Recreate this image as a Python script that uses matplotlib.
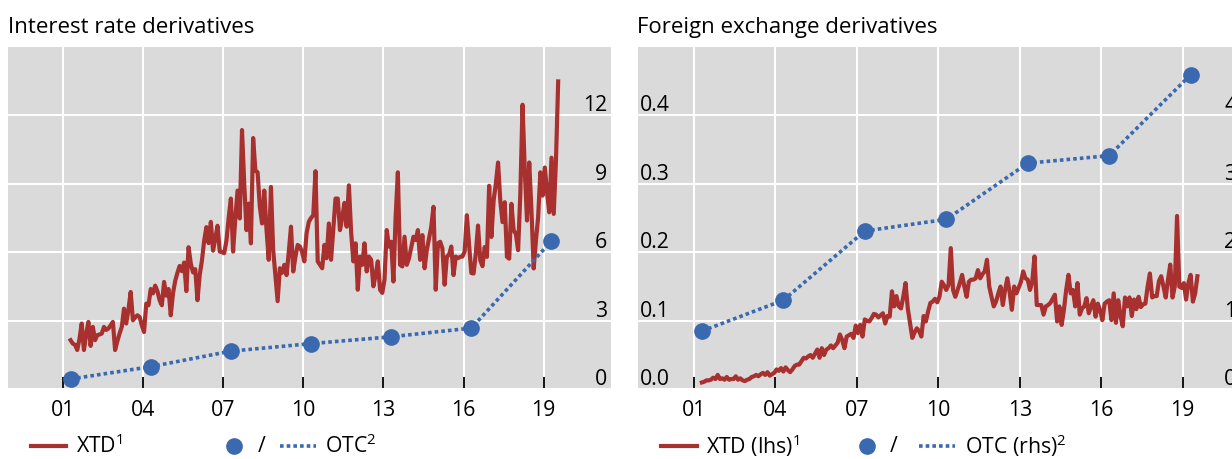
import numpy as np
import pandas as pd
import matplotlib
matplotlib.use('Agg')
import matplotlib.pyplot as plt
from matplotlib.lines import Line2D
from matplotlib.transforms import blended_transform_factory, ScaledTranslation

plt.rcParams['font.family'] = ['Open Sans', 'DejaVu Sans']
plt.rcParams['mathtext.default'] = 'regular'

# ---------------- data ----------------
xtd_start, xtd_end = '2001-04', '2019-07'   # monthly XTD turnover

ir_xtd = [
    2.15, 2.0, 1.95, 1.72, 2.2, 2.88, 1.72, 2.4, 2.95, 1.9,
    2.73, 2.15, 2.37, 2.4, 2.44, 2.73, 2.6, 2.66, 2.8, 2.95,
    1.72, 2.1, 2.44, 2.73, 3.53, 2.88, 3.5, 4.26, 3.02, 3.15,
    3.24, 3.17, 2.8, 2.51, 3.75, 3.68, 4.39, 4.2, 4.54, 4.3,
    3.9, 3.68, 4.7, 4.1, 4.39, 3.24, 4.2, 4.75, 5.1, 5.4,
    5.17, 5.55, 4.3, 6.22, 5.5, 5.12, 5.26, 3.9, 5.0, 5.64,
    6.5, 7.1, 6.4, 7.33, 6.07, 6.6, 7.16, 6.03, 6.0, 5.96,
    6.5, 7.5, 8.35, 6.03, 7.5, 8.7, 7.48, 11.35, 9.0, 6.97,
    8.13, 6.39, 11.0, 9.58, 9.5, 8.0, 7.26, 8.7, 7.0, 5.67,
    8.86, 6.1, 5.0, 3.86, 5.3, 5.1, 5.45, 5.0, 6.0, 7.12,
    5.16, 5.8, 6.32, 6.25, 6.0, 5.6, 6.83, 7.33, 7.5, 7.62,
    9.55, 5.6, 5.45, 5.3, 6.32, 5.74, 7.26, 5.67, 7.0, 8.35,
    8.35, 6.97, 7.5, 8.16, 7.12, 8.93, 6.9, 5.6, 6.39, 4.36,
    5.81, 5.45, 6.39, 5.16, 5.81, 5.67, 4.51, 5.0, 5.6, 4.36,
    4.22, 4.8, 6.97, 6.25, 6.46, 4.72, 7.55, 9.5, 5.45, 5.38,
    6.68, 5.45, 5.74, 6.2, 6.68, 6.54, 6.97, 5.67, 6.75, 5.3,
    6.1, 6.6, 7.12, 7.99, 4.36, 6.39, 6.46, 6.17, 4.58, 5.81,
    5.9, 6.25, 5.0, 5.81, 5.74, 5.8, 5.81, 6.03, 7.62, 6.3,
    5.09, 5.07, 5.94, 7.17, 5.65, 5.39, 6.23, 5.8, 8.91, 6.67,
    8.26, 9.0, 9.93, 8.26, 7.32, 8.19, 5.8, 5.72, 8.12, 6.96,
    6.81, 6.09, 8.55, 12.46, 9.57, 7.39, 9.93, 7.83, 5.29, 6.5,
    7.54, 9.5, 8.48, 9.71, 8.62, 7.75, 10.14, 7.68, 10.0, 13.48,
]

fx_xtd = [
    0.010, 0.011, 0.013, 0.013, 0.014, 0.017, 0.015, 0.021, 0.015, 0.016,
    0.014, 0.018, 0.014, 0.015, 0.015, 0.019, 0.014, 0.016, 0.013, 0.012,
    0.014, 0.015, 0.018, 0.019, 0.021, 0.019, 0.022, 0.024, 0.021, 0.025,
    0.020, 0.022, 0.024, 0.029, 0.027, 0.031, 0.026, 0.032, 0.028, 0.025,
    0.029, 0.034, 0.036, 0.036, 0.041, 0.046, 0.045, 0.048, 0.050, 0.046,
    0.052, 0.058, 0.046, 0.060, 0.050, 0.058, 0.060, 0.064, 0.060, 0.064,
    0.068, 0.080, 0.072, 0.060, 0.077, 0.079, 0.081, 0.075, 0.093, 0.082,
    0.094, 0.077, 0.102, 0.100, 0.099, 0.104, 0.110, 0.109, 0.105, 0.108,
    0.111, 0.096, 0.107, 0.106, 0.143, 0.121, 0.136, 0.121, 0.118, 0.135,
    0.155, 0.118, 0.097, 0.075, 0.083, 0.089, 0.085, 0.077, 0.107, 0.099,
    0.114, 0.126, 0.128, 0.132, 0.127, 0.135, 0.157, 0.152, 0.145, 0.152,
    0.206, 0.145, 0.135, 0.145, 0.155, 0.167, 0.150, 0.135, 0.157, 0.160,
    0.160, 0.162, 0.174, 0.162, 0.168, 0.172, 0.189, 0.150, 0.135, 0.121,
    0.128, 0.140, 0.150, 0.123, 0.145, 0.162, 0.142, 0.116, 0.150, 0.140,
    0.148, 0.157, 0.172, 0.162, 0.160, 0.145, 0.157, 0.194, 0.123, 0.123,
    0.123, 0.109, 0.121, 0.123, 0.126, 0.132, 0.138, 0.099, 0.121, 0.094,
    0.116, 0.145, 0.167, 0.140, 0.145, 0.121, 0.155, 0.109, 0.118, 0.121,
    0.133, 0.111, 0.121, 0.130, 0.106, 0.125, 0.115, 0.101, 0.125, 0.128,
    0.130, 0.101, 0.140, 0.097, 0.130, 0.107, 0.092, 0.134, 0.121, 0.134,
    0.107, 0.131, 0.117, 0.135, 0.120, 0.124, 0.125, 0.150, 0.169, 0.134,
    0.136, 0.136, 0.158, 0.165, 0.150, 0.134, 0.160, 0.182, 0.134, 0.150,
    0.253, 0.150, 0.148, 0.155, 0.131, 0.155, 0.167, 0.128, 0.140, 0.165,
]

otc_years = [2001, 2004, 2007, 2010, 2013, 2016, 2019]   # April surveys
ir_otc = [0.45, 0.99, 1.67, 2.0, 2.3, 2.68, 6.49]
fx_otc = [0.85, 1.30, 2.31, 2.48, 3.30, 3.41, 4.59]

xtick_years = [2001, 2004, 2007, 2010, 2013, 2016, 2019]
xtick_labels = ['01', '04', '07', '10', '13', '16', '19']
ir_ticks = [0, 3, 6, 9, 12]
fx_lhs_ticks = [0.0, 0.1, 0.2, 0.3, 0.4]
fx_lhs_labels = ['0.0', '0.1', '0.2', '0.3', '0.4']
fx_rhs_ticks = [0, 1, 2, 3, 4]

# ---------------- style ----------------
RED = '#A8302E'
BLUE = '#3A69AF'
BG = '#DADADA'
FS = 15.3
TFS = 16
W, H = 1232, 459
LW_RED = 3.0
LW_DOT = 2.6
DOTS = (0, (1, 0.85))

months = pd.period_range(xtd_start, xtd_end, freq='M')
xtd_x = np.asarray(months.year + (months.month - 0.5) / 12.0, dtype=float)
otc_x = np.asarray(otc_years, dtype=float) + 3.5 / 12.0

fig = plt.figure(figsize=(W / 100, H / 100), dpi=100)

def px_rect(x0, y0, x1, y1):
    return [x0 / W, 1 - y1 / H, (x1 - x0) / W, (y1 - y0) / H]

ax1 = fig.add_axes(px_rect(8, 46.7, 610.5, 389.3))
ax2 = fig.add_axes(px_rect(638.3, 46.7, 1240, 389.3))

def style(ax, xlim, ylim, yticks):
    ax.set_facecolor(BG)
    for s in ax.spines.values():
        s.set_visible(False)
    ax.set_xlim(*xlim)
    ax.set_ylim(*ylim)
    ax.set_xticks(xtick_years)
    ax.set_xticklabels(xtick_labels, fontsize=FS)
    ax.set_yticks(yticks)
    ax.tick_params(axis='x', direction='in', length=9, width=1.3, color='black', pad=8)
    ax.tick_params(axis='y', length=0, labelleft=False, labelright=False)
    ax.grid(True, color='white', linewidth=1.5)
    ax.set_axisbelow(True)

style(ax1, (1998.95, 2021.5), (0, 15), ir_ticks)
style(ax2, (1998.95, 2021.11), (0, 0.5), fx_lhs_ticks)

# left panel
ax1.plot(xtd_x, ir_xtd, color=RED, lw=LW_RED, zorder=3, solid_joinstyle='round')
ax1.plot(otc_x, ir_otc, color=BLUE, lw=LW_DOT, linestyle=DOTS, zorder=4)
ax1.plot(otc_x, ir_otc, color=BLUE, lw=0, marker='o', markersize=11, zorder=5)

tr1 = blended_transform_factory(ax1.transAxes, ax1.transData)
off_up = ScaledTranslation(0, 4 / 100, fig.dpi_scale_trans)
for t in ir_ticks:
    ax1.text(1 - 3.5 / 602.5, t, str(t), transform=tr1 + off_up, ha='right', va='baseline',
             fontsize=FS, zorder=6)

# right panel
ax2.plot(xtd_x, fx_xtd, color=RED, lw=LW_RED, zorder=3, solid_joinstyle='round')
ax2b = ax2.twinx()
ax2b.set_ylim(0, 5)
ax2b.set_xlim(ax2.get_xlim())
for s in ax2b.spines.values():
    s.set_visible(False)
ax2b.tick_params(axis='y', length=0, labelright=False)
ax2b.set_yticks([])
ax2b.plot(otc_x, fx_otc, color=BLUE, lw=LW_DOT, linestyle=DOTS, zorder=4)
ax2b.plot(otc_x, fx_otc, color=BLUE, lw=0, marker='o', markersize=11, zorder=5)

tr2 = blended_transform_factory(ax2.transAxes, ax2.transData)
for t, lab in zip(fx_lhs_ticks, fx_lhs_labels):
    ax2.text(2 / 601.7, t, lab, transform=tr2 + off_up, ha='left', va='baseline', fontsize=FS)
tr2b = blended_transform_factory(ax2b.transAxes, ax2b.transData)
for t in fx_rhs_ticks:
    ax2b.text(1 - 3.5 / 601.7, t, str(t), transform=tr2b + off_up, ha='right', va='baseline',
              fontsize=FS)

# titles
fig.text(8 / W, 1 - 33 / H, 'Interest rate derivatives', fontsize=TFS, ha='left', va='baseline')
fig.text(637 / W, 1 - 33 / H, 'Foreign exchange derivatives', fontsize=TFS, ha='left', va='baseline')

# legends
LY = 1 - 446 / H
def leg_line(x0, x1, **kw):
    fig.add_artist(Line2D([x0 / W, x1 / W], [LY, LY], transform=fig.transFigure, **kw))

def leg_text(x, s, **kw):
    fig.text(x / W, LY, s, fontsize=FS, ha='left', va='center', **kw)

for (rx0, rx1, tx, lab, dx, sx, lx0, lx1, ox, olab) in [
        (31, 66, 76, 'XTD$^1$', 234, 258, 280, 316, 325, 'OTC$^2$'),
        (661, 697, 706, 'XTD (lhs)$^1$', 867, 890, 919, 955, 965, 'OTC (rhs)$^2$')]:
    leg_line(rx0, rx1, color=RED, lw=LW_RED)
    leg_text(tx, lab)
    fig.add_artist(Line2D([dx / W], [LY], transform=fig.transFigure, color=BLUE, lw=0,
                          marker='o', markersize=11))
    leg_text(sx, '/')
    leg_line(lx0, lx1, color=BLUE, lw=LW_DOT, linestyle=DOTS)
    leg_text(ox, olab)

fig.savefig('out.png', dpi=100)
